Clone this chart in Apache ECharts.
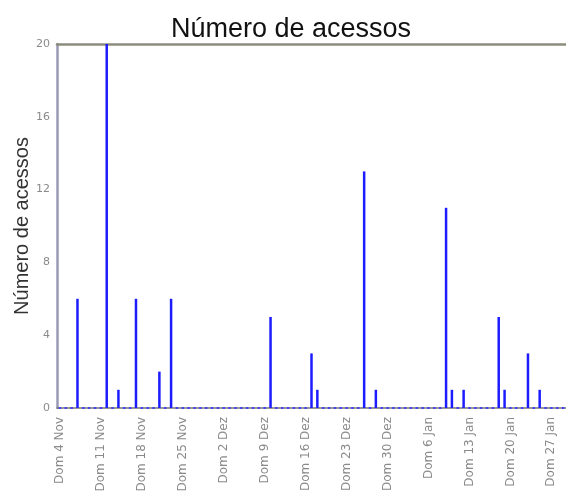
<!DOCTYPE html>
<html>
<head>
<meta charset="utf-8">
<script src="https://cdn.jsdelivr.net/npm/echarts@6/dist/echarts.min.js"></script>
<style>html,body{margin:0;padding:0;background:#fff}#c{width:566px;height:498px}</style>
</head>
<body>
<div id="c"></div>
<script>
// Daily categories, 4 Nov .. 29 Jan
var categories = [
 "4 Nov","5 Nov","6 Nov","7 Nov","8 Nov","9 Nov","10 Nov","11 Nov","12 Nov","13 Nov","14 Nov","15 Nov","16 Nov","17 Nov","18 Nov","19 Nov","20 Nov","21 Nov","22 Nov","23 Nov","24 Nov","25 Nov","26 Nov","27 Nov","28 Nov","29 Nov","30 Nov",
 "1 Dez","2 Dez","3 Dez","4 Dez","5 Dez","6 Dez","7 Dez","8 Dez","9 Dez","10 Dez","11 Dez","12 Dez","13 Dez","14 Dez","15 Dez","16 Dez","17 Dez","18 Dez","19 Dez","20 Dez","21 Dez","22 Dez","23 Dez","24 Dez","25 Dez","26 Dez","27 Dez","28 Dez","29 Dez","30 Dez","31 Dez",
 "1 Jan","2 Jan","3 Jan","4 Jan","5 Jan","6 Jan","7 Jan","8 Jan","9 Jan","10 Jan","11 Jan","12 Jan","13 Jan","14 Jan","15 Jan","16 Jan","17 Jan","18 Jan","19 Jan","20 Jan","21 Jan","22 Jan","23 Jan","24 Jan","25 Jan","26 Jan","27 Jan","28 Jan","29 Jan"
];
// Weekly tick labels (every Sunday)
var tickLabels = ["Dom 4 Nov","Dom 11 Nov","Dom 18 Nov","Dom 25 Nov","Dom 2 Dez","Dom 9 Dez","Dom 16 Dez","Dom 23 Dez","Dom 30 Dez","Dom 6 Jan","Dom 13 Jan","Dom 20 Jan","Dom 27 Jan"];
// Accesses per day (one row per week, starting on Sunday)
var accesses = [
 0,0,0,6,0,0,0,
 0,20,0,1,0,0,6,
 0,0,0,2,0,6,0,
 0,0,0,0,0,0,0,
 0,0,0,0,0,0,0,
 0,5,0,0,0,0,0,
 0,3,1,0,0,0,0,
 0,0,0,13,0,1,0,
 0,0,0,0,0,0,0,
 0,0,0,11,1,0,1,
 0,0,0,0,0,5,1,
 0,0,0,3,0,1,0,
 0,0,0
];
var yTicks = {min: 0, max: 20, interval: 4};

var chart = echarts.init(document.getElementById('c'), null, {renderer: 'canvas'});
chart.setOption({
  animation: false,
  backgroundColor: '#fff',
  title: {
    text: 'Número de acessos',
    left: 286, top: 11, textAlign: 'center',
    textStyle: {fontFamily: 'Liberation Sans, Arial, sans-serif', fontSize: 27, fontWeight: 'normal', color: '#111'}
  },
  grid: {left: 57, top: 44, right: 0, bottom: 90, containLabel: false, outerBoundsMode: 'none'},
  xAxis: [{
    type: 'category',
    data: categories,
    boundaryGap: true,
    axisLine: {lineStyle: {color: '#777', width: 1.5}},
    axisTick: {show: false},
    axisLabel: {
      rotate: 90,
      interval: function (i) { return i % 7 === 0; },
      formatter: function (v, i) { return tickLabels[i / 7] || ''; },
      color: '#8a8a8a',
      fontFamily: 'DejaVu Sans, sans-serif',
      fontSize: 12,
      margin: 9
    },
    splitLine: {show: false}
  }, {
    type: 'category',
    data: categories,
    position: 'top',
    axisLine: {lineStyle: {color: '#8c8c7c', width: 2.5}},
    axisTick: {show: false},
    axisLabel: {show: false},
    splitLine: {show: false}
  }],
  yAxis: {
    type: 'value',
    min: yTicks.min, max: yTicks.max, interval: yTicks.interval,
    name: 'Número de acessos',
    nameLocation: 'middle',
    nameGap: 25,
    nameMoveOverlap: false,
    nameTextStyle: {fontFamily: 'Liberation Sans, Arial, sans-serif', fontSize: 20, color: '#333'},
    axisLine: {show: true, lineStyle: {color: '#9a9ab6', width: 2.5}},
    axisTick: {show: false},
    axisLabel: {color: '#8a8a8a', fontSize: 11, fontFamily: 'DejaVu Sans, sans-serif', margin: 7},
    splitLine: {show: false}
  },
  series: [{
    type: 'bar',
    data: accesses,
    barWidth: 2.5,
    itemStyle: {color: '#1c1cff'},
    z: 3
  }, {
    type: 'scatter',
    data: accesses,
    symbol: 'rect',
    symbolSize: function (v) { return v === 0 ? [2.5, 2] : 0; },
    itemStyle: {color: '#3030ff'},
    z: 4,
    silent: true
  }]
});
</script>
</body>
</html>
